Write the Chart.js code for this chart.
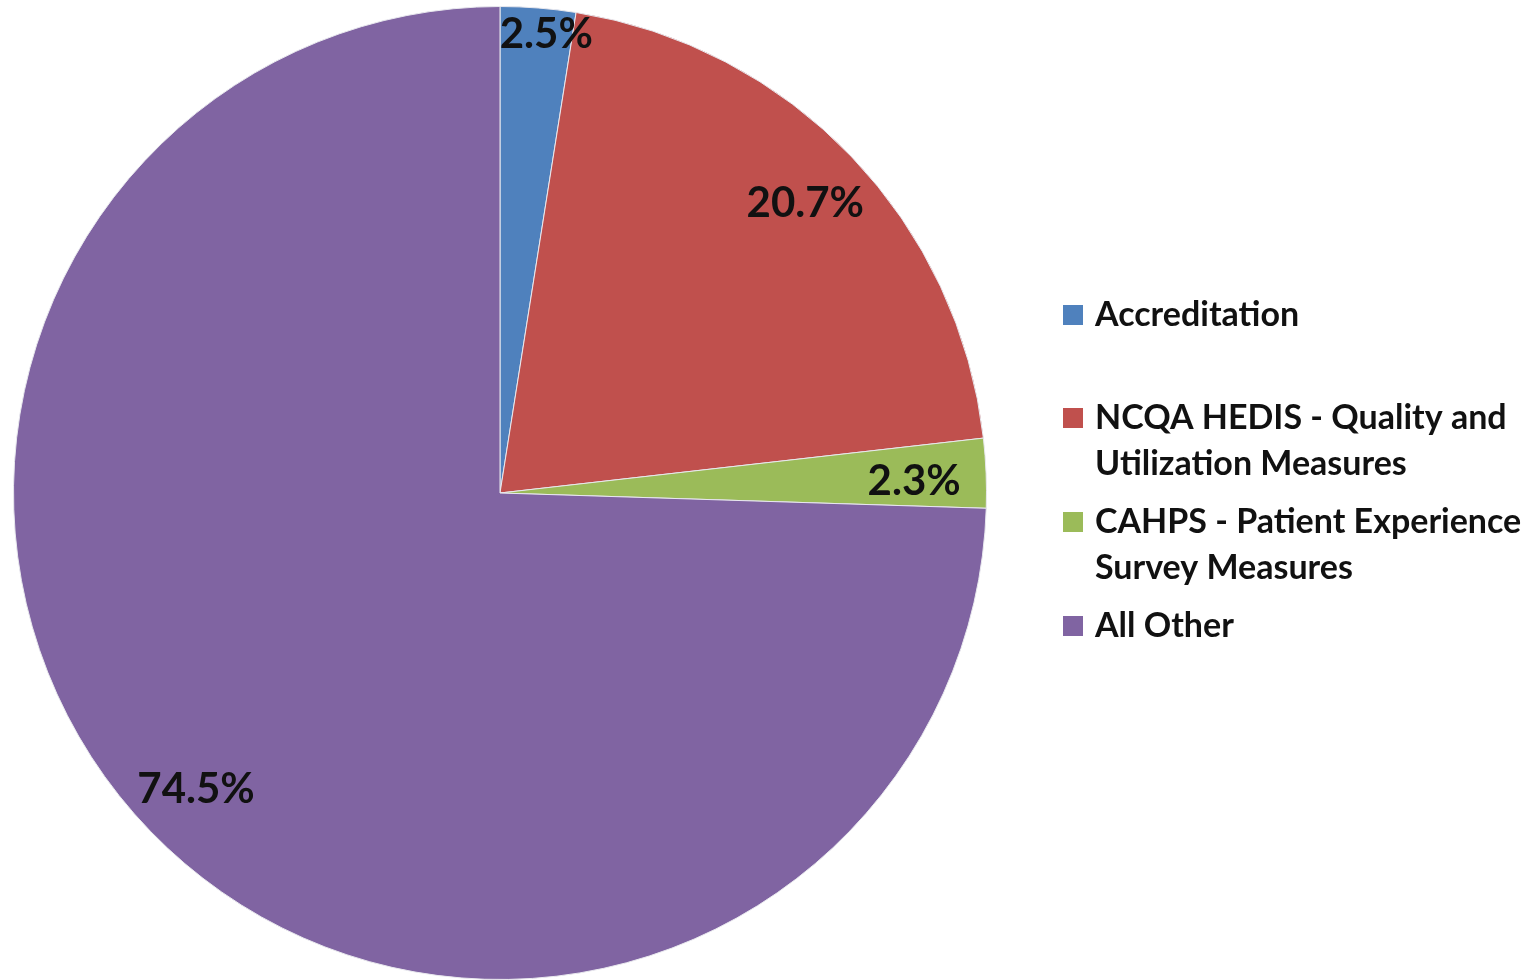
<!DOCTYPE html>
<html>
<head>
<meta charset="utf-8">
<script src="https://cdn.jsdelivr.net/npm/chart.js@4"></script>
<style>
  html, body { margin: 0; padding: 0; background: #fff; }
  #wrap { width: 1530px; height: 980px; }
</style>
</head>
<body>
<div id="wrap"><canvas id="pieChart" width="1530" height="980"></canvas></div>
<script>
// data
const categories = [
    'Accreditation',
    ['NCQA HEDIS - Quality and', 'Utilization Measures'],
    ['CAHPS - Patient Experience', 'Survey Measures'],
    'All Other'
];
const shares = [2.5, 20.7, 2.3, 74.5];
const sliceColors = ['#4F81BD', '#C0504D', '#9BBB59', '#8064A2'];

// percentage labels inside slices
const pctLabels = {
    id: 'pctLabels',
    afterDatasetsDraw(chart, args, opts) {
        const ctx = chart.ctx;
        const arcs = chart.getDatasetMeta(0).data;
        ctx.save();
        ctx.font = opts.font;
        ctx.fillStyle = '#111';
        ctx.textAlign = 'center';
        ctx.textBaseline = 'middle';
        arcs.forEach((arc, i) => {
            const mid = (arc.startAngle + arc.endAngle) / 2;
            const r = arc.outerRadius * opts.radial[i];
            const x = arc.x + Math.cos(mid) * r + opts.nudge[i][0];
            const y = arc.y + Math.sin(mid) * r + opts.nudge[i][1];
            ctx.fillText(chart.data.datasets[0].data[i].toFixed(1) + '%', x, y);
        });
        ctx.restore();
    }
};

// legend on the right, drawn on the canvas
const sideLegend = {
    id: 'sideLegend',
    afterDraw(chart, args, opts) {
        const ctx = chart.ctx;
        const colors = chart.data.datasets[0].backgroundColor;
        ctx.save();
        ctx.font = opts.font;
        ctx.textBaseline = 'middle';
        chart.data.labels.forEach((lab, i) => {
            const lines = Array.isArray(lab) ? lab : [lab];
            const y0 = opts.rows[i];
            ctx.fillStyle = colors[i];
            ctx.fillRect(opts.x, y0 - 10, 20, 20);
            ctx.fillStyle = '#111';
            lines.forEach((t, k) => ctx.fillText(t, opts.x + 32, y0 + k * opts.lineGap));
        });
        ctx.restore();
    }
};

new Chart(document.getElementById('pieChart').getContext('2d'), {
    type: 'pie',
    data: {
        labels: categories,
        datasets: [{
            data: shares,
            backgroundColor: sliceColors,
            borderColor: '#e8e8ee',
            borderWidth: 1
        }]
    },
    options: {
        responsive: false,
        animation: false,
        layout: { padding: { left: 13, top: 6, right: 543, bottom: 0 } },
        plugins: {
            legend: { display: false },
            tooltip: { enabled: false },
            pctLabels: {
                font: 'bold 42px Lato',
                radial: [0.95, 0.86, 0.85, 0.87],
                nudge: [[10, 2], [3, 0], [1, 5], [0, 2]]
            },
            sideLegend: { font: 'bold 34px Lato', x: 1063, rows: [315, 418, 522, 626], lineGap: 46 }
        }
    },
    plugins: [pctLabels, sideLegend]
});
</script>
</body>
</html>
